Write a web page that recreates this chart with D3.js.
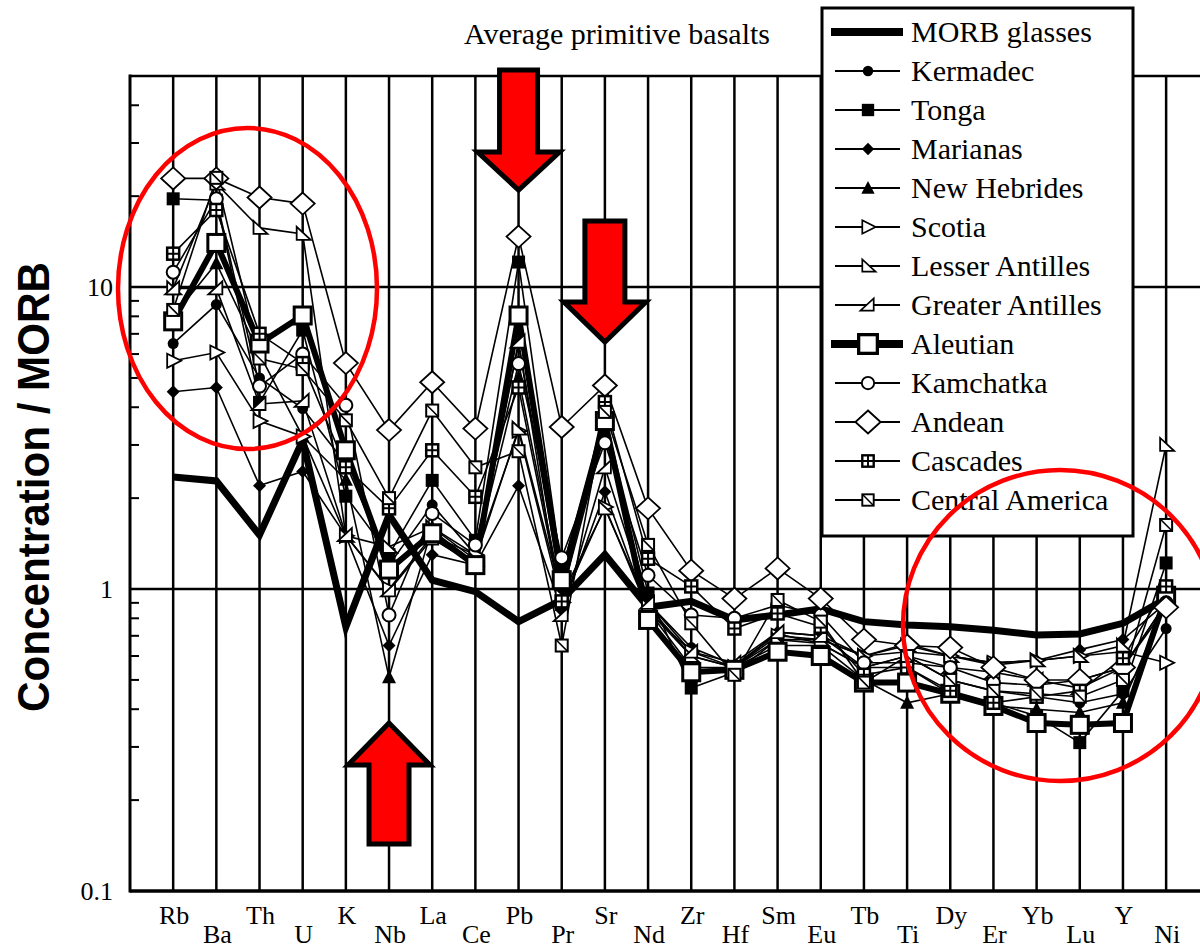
<!DOCTYPE html>
<html><head><meta charset="utf-8">
<script src="https://cdn.jsdelivr.net/npm/d3@7"></script>
<style>body{margin:0;background:#fff}svg{display:block}</style>
</head><body><svg id="c" width="1200" height="951"></svg>
<script>
// ---------- data ----------
const elements = ["Rb","Ba","Th","U","K","Nb","La","Ce","Pb","Pr","Sr","Nd","Zr","Hf","Sm","Eu","Tb","Ti","Dy","Er","Yb","Lu","Y","Ni"];
const morbGlasses    = [2.35,2.28,1.51,3.11,0.75,1.76,1.07,0.98,0.78,0.92,1.30,0.87,0.91,0.79,0.82,0.86,0.78,0.76,0.75,0.73,0.705,0.71,0.77,0.93];
const kermadec       = [6.5,8.75,5.0,3.96,2.6,1.2,1.9,1.3,6.5,1.0,3.4,0.9,0.64,0.56,0.71,0.66,0.55,0.6,0.5,0.46,0.44,0.42,0.45,0.74];
const tonga          = [19.6,19.4,4.15,7.2,2.03,1.3,2.29,1.45,12.1,1.15,3.7,0.97,0.47,0.53,0.68,0.66,0.55,0.55,0.45,0.42,0.38,0.31,0.46,1.22];
const marianas       = [4.5,4.65,2.2,2.45,1.5,0.65,1.3,1.2,2.2,0.85,2.1,0.85,0.6,0.55,0.72,0.7,0.6,0.66,0.6,0.57,0.58,0.63,0.68,0.9];
const newHebrides    = [8,12,6,3.2,2.3,0.51,1.6,1.3,5,0.95,3.3,0.85,0.55,0.55,0.65,0.65,0.5,0.42,0.45,0.41,0.4,0.39,0.42,0.9];
const scotia         = [5.7,6.07,3.6,3.2,1.5,1.0,1.5,1.3,3.34,0.9,1.87,0.85,0.62,0.55,0.7,0.68,0.6,0.62,0.6,0.57,0.58,0.6,0.62,0.57];
const lesserAntilles = [9.9,22,15.7,15.0,1.5,1.38,1.6,1.25,3.4,0.95,1.85,0.88,0.6,0.55,0.68,0.68,0.6,0.65,0.6,0.56,0.58,0.6,0.65,3.0];
const greaterAntilles= [9.9,9.9,4.1,4.2,1.51,0.99,1.47,1.2,6.6,0.82,2.53,0.9,0.62,0.57,0.72,0.7,0.55,0.6,0.55,0.53,0.5,0.47,0.55,0.9];
const aleutian       = [7.7,14.0,6.5,8.05,2.88,1.16,1.53,1.2,8.05,1.07,3.6,0.79,0.53,0.54,0.62,0.6,0.49,0.49,0.45,0.41,0.36,0.355,0.36,0.95];
const kamchatka      = [11.2,19.6,4.7,6.0,4.06,0.82,1.78,1.4,5.58,1.27,3.05,1.11,0.82,0.8,0.885,0.82,0.57,0.57,0.55,0.49,0.48,0.5,0.55,0.9];
const andean         = [22.9,22.9,19.8,18.9,5.6,3.36,4.84,3.4,14.7,3.44,4.72,1.85,1.15,0.93,1.17,0.93,0.68,0.65,0.64,0.55,0.5,0.5,0.55,0.87];
const cascades       = [12.9,18,7.0,5.6,2.53,1.85,2.88,2.02,4.65,0.91,4.16,1.26,1.02,0.74,0.83,0.75,0.52,0.55,0.46,0.42,0.44,0.46,0.59,1.02];
const centralAmerica = [8.4,23,5.8,5.35,3.62,2.0,3.9,2.53,2.86,0.65,3.86,1.4,0.77,0.52,0.92,0.78,0.49,0.6,0.5,0.46,0.45,0.44,0.5,1.63];

const seriesNames = ["MORB glasses","Kermadec","Tonga","Marianas","New Hebrides","Scotia","Lesser Antilles","Greater Antilles","Aleutian","Kamchatka","Andean","Cascades","Central America"];
const yTickValues = [0.1, 1, 10];
const yTickLabels = ["0.1", "1", "10"];
const yMinorTicks = [0.2,0.3,0.4,0.5,0.6,0.7,0.8,0.9,2,3,4,5,6,7,8,9,20,30,40];
const titleText = "Average primitive basalts";
const yTitle = "Concentration / MORB";

// ---------- setup ----------
const series = [
  {name: seriesNames[0], values: morbGlasses, marker: null, w: 7},
  {name: seriesNames[1], values: kermadec, marker: "circleFilled", w: 1.6},
  {name: seriesNames[2], values: tonga, marker: "squareFilled", w: 1.6},
  {name: seriesNames[3], values: marianas, marker: "diamondFilled", w: 1.6},
  {name: seriesNames[4], values: newHebrides, marker: "triFilled", w: 1.6},
  {name: seriesNames[5], values: scotia, marker: "triRight", w: 1.6},
  {name: seriesNames[6], values: lesserAntilles, marker: "triLA", w: 1.6},
  {name: seriesNames[7], values: greaterAntilles, marker: "triGA", w: 1.6},
  {name: seriesNames[8], values: aleutian, marker: "squareBig", w: 6},
  {name: seriesNames[9], values: kamchatka, marker: "circleOpen", w: 1.6},
  {name: seriesNames[10], values: andean, marker: "diamondOpen", w: 1.6},
  {name: seriesNames[11], values: cascades, marker: "squareGrid", w: 1.6},
  {name: seriesNames[12], values: centralAmerica, marker: "squareDiag", w: 1.6}
];

const svg = d3.select("#c");
const x = d3.scaleLinear().domain([-1, 24]).range([130, 1209.3]);
const y = d3.scaleLog().domain([0.1, 50]).range([891, 76]);
const serif = "'Liberation Serif','Times New Roman',serif";

// grid
const grid = svg.append("g").attr("stroke", "#000");
grid.selectAll("line.v").data(elements).join("line")
  .attr("x1", (d,i) => x(i)).attr("x2", (d,i) => x(i))
  .attr("y1", y(50)).attr("y2", y(0.1)).attr("stroke-width", 2.5);
grid.selectAll("line.h").data([1, 10]).join("line").attr("class","h")
  .attr("x1", x(-1)).attr("x2", x(24)).attr("y1", d => y(d)).attr("y2", d => y(d)).attr("stroke-width", 2.5);
// frame
grid.append("line").attr("x1", x(-1)).attr("x2", x(-1)).attr("y1", y(50)-1.5).attr("y2", y(0.1)+1.5).attr("stroke-width", 3);
grid.append("line").attr("x1", x(-1)).attr("x2", x(24)).attr("y1", y(50)).attr("y2", y(50)).attr("stroke-width", 2.5);
grid.append("line").attr("x1", x(-1)).attr("x2", x(24)).attr("y1", y(0.1)).attr("y2", y(0.1)).attr("stroke-width", 3.5);
// minor ticks
grid.selectAll("line.m").data(yMinorTicks).join("line").attr("class","m")
  .attr("x1", x(-1)).attr("x2", x(-1)+9).attr("y1", d => y(d)).attr("y2", d => y(d)).attr("stroke-width", 2);

// y tick labels
svg.append("g").selectAll("text").data(yTickValues).join("text")
  .attr("x", 113).attr("y", d => y(d) + 9).attr("text-anchor", "end")
  .attr("font-family", serif).attr("font-size", 26)
  .text((d,i) => yTickLabels[i]);

// x labels
svg.append("g").selectAll("text").data(elements).join("text")
  .attr("x", (d,i) => x(i) + 1).attr("y", (d,i) => i % 2 === 0 ? 924 : 943)
  .attr("text-anchor", "middle").attr("font-family", serif).attr("font-size", 26)
  .text(d => d);

// y title
svg.append("text").attr("transform", "translate(49,487) rotate(-90)")
  .attr("text-anchor", "middle").attr("font-family", "'Liberation Sans Narrow','Arial Narrow','Liberation Sans',Arial,sans-serif")
  .attr("font-weight", "bold").attr("font-size", 44).attr("textLength", 450).attr("lengthAdjust", "spacingAndGlyphs")
  .text(yTitle);

// title
svg.append("text").attr("x", 617).attr("y", 44).attr("text-anchor", "middle")
  .attr("font-family", serif).attr("font-size", 30).text(titleText);

// markers
function marker(g, type, cx, cy, scale) {
  const s = scale || 1;
  const t = g.append("g").attr("transform", `translate(${cx},${cy}) scale(${s})`);
  switch (type) {
    case "circleFilled": t.append("circle").attr("r", 5.5).attr("fill", "#000"); break;
    case "squareFilled": t.append("rect").attr("x",-6.5).attr("y",-6.5).attr("width",13).attr("height",13).attr("fill","#000"); break;
    case "diamondFilled": t.append("path").attr("d","M0,-6.5L6.5,0L0,6.5L-6.5,0Z").attr("fill","#000"); break;
    case "triFilled": t.append("path").attr("d","M0,-7.5L7,6L-7,6Z").attr("fill","#000"); break;
    case "triRight": t.append("path").attr("d","M-6,-7L8,0L-6,7Z").attr("fill","#fff").attr("stroke","#000").attr("stroke-width",1.8); break;
    case "triLA": t.append("path").attr("d","M-6,-7L-6,6L8,6Z").attr("fill","#fff").attr("stroke","#000").attr("stroke-width",1.8); break;
    case "triGA": t.append("path").attr("d","M6,-7L6,6L-8,6Z").attr("fill","#fff").attr("stroke","#000").attr("stroke-width",1.8); break;
    case "squareBig": t.append("rect").attr("x",-8.5).attr("y",-8.5).attr("width",17).attr("height",17).attr("fill","#fff").attr("stroke","#000").attr("stroke-width",3); break;
    case "circleOpen": t.append("circle").attr("r", 6.5).attr("fill","#fff").attr("stroke","#000").attr("stroke-width",2); break;
    case "diamondOpen": t.append("path").attr("d","M0,-11L12,0L0,11L-12,0Z").attr("fill","#fff").attr("stroke","#000").attr("stroke-width",1.8); break;
    case "squareGrid":
      t.append("rect").attr("x",-6).attr("y",-6).attr("width",12).attr("height",12).attr("fill","#fff").attr("stroke","#000").attr("stroke-width",2.5);
      t.append("path").attr("d","M0,-6V6M-6,0H6").attr("stroke","#000").attr("stroke-width",2); break;
    case "squareDiag":
      t.append("rect").attr("x",-6).attr("y",-6).attr("width",12).attr("height",12).attr("fill","#fff").attr("stroke","#000").attr("stroke-width",2);
      t.append("path").attr("d","M-6,-6L6,6").attr("stroke","#000").attr("stroke-width",1.6); break;
  }
}

// series
const line = d3.line().x((d,i) => x(i)).y(d => y(d));
const plot = svg.append("g");
series.forEach(s => {
  plot.append("path").attr("d", line(s.values)).attr("fill","none").attr("stroke","#000")
    .attr("stroke-width", s.w).attr("stroke-linejoin","miter");
});
series.forEach(s => {
  if (!s.marker) return;
  const g = plot.append("g");
  s.values.forEach((v,i) => marker(g, s.marker, x(i), y(v)));
});

// legend
const lg = svg.append("g");
lg.append("rect").attr("x", 822).attr("y", 8).attr("width", 311).attr("height", 528)
  .attr("fill", "#fff").attr("stroke", "#000").attr("stroke-width", 3);
series.forEach((s, i) => {
  const ly = 32 + i * 39;
  const thick = s.w > 3;
  lg.append("line").attr("x1", thick ? 831 : 835).attr("x2", thick ? 903 : 900)
    .attr("y1", ly).attr("y2", ly).attr("stroke", "#000").attr("stroke-width", thick ? 8 : 2);
  if (s.marker) marker(lg, s.marker, 868, ly, s.marker === "squareBig" ? 1.1 : (s.marker === "diamondOpen" ? 1.05 : 0.95));
  lg.append("text").attr("x", 911).attr("y", ly + 10).attr("font-family", serif).attr("font-size", 30).text(s.name);
});

// annotations: red ellipses and arrows
const ann = svg.append("g");
ann.append("ellipse").attr("cx", 247.5).attr("cy", 288.5).attr("rx", 129.5).attr("ry", 160.5)
  .attr("fill", "none").attr("stroke", "#ff0000").attr("stroke-width", 4.5);
ann.append("ellipse").attr("cx", 1060).attr("cy", 625.5).attr("rx", 157).attr("ry", 155.5)
  .attr("fill", "none").attr("stroke", "#ff0000").attr("stroke-width", 4.5);

function downArrow(cx, top, base, tip, sw, hw) {
  return `M${cx-sw},${top}L${cx+sw},${top}L${cx+sw},${base}L${cx+hw},${base}L${cx},${tip}L${cx-hw},${base}L${cx-sw},${base}Z`;
}
ann.append("path").attr("d", downArrow(x(8), 70, 152, 190, 19, 41))
  .attr("fill", "#ff0000").attr("stroke", "#000").attr("stroke-width", 5).attr("stroke-linejoin","miter");
ann.append("path").attr("d", downArrow(x(10), 221, 302, 342, 20, 41))
  .attr("fill", "#ff0000").attr("stroke", "#000").attr("stroke-width", 5).attr("stroke-linejoin","miter");
ann.append("path").attr("d", downArrow(x(5), 844, 765, 723, 20, 41))
  .attr("fill", "#ff0000").attr("stroke", "#000").attr("stroke-width", 5).attr("stroke-linejoin","miter");
</script></body></html>
